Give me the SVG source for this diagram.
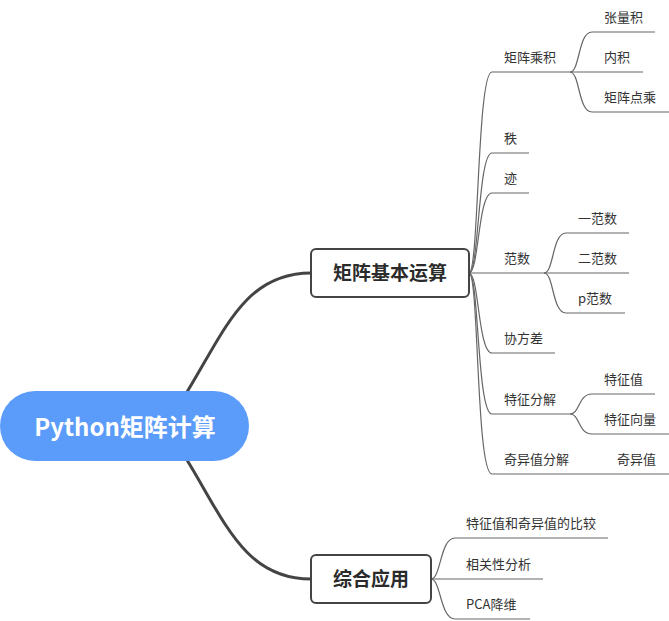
<svg xmlns="http://www.w3.org/2000/svg" width="669" height="621" viewBox="0 0 669 621">
<style>
.main{fill:none;stroke:#444;stroke-width:3;stroke-linecap:round}
.br{fill:none;stroke:#666;stroke-width:1.2}
.t{font-family:"Microsoft YaHei","Noto Sans CJK SC","Noto Sans",sans-serif;font-size:13px;fill:#333}
.nt{font-family:"Microsoft YaHei","Noto Sans CJK SC","Noto Sans",sans-serif;font-size:19px;font-weight:bold;fill:#2b2b2b;text-anchor:middle}
.box{fill:#fff;stroke:#444;stroke-width:2}
</style>
<rect width="669" height="621" fill="#fff"/>
<g id="connectors">
<path class="main" d="M187,392 C225,330 245,273 311,273"/>
<path class="main" d="M187,460 C225,522 245,579 311,579"/>
<path class="br" d="M469,273 C479,273 477,72 492,72 L570,72"/>
<path class="br" d="M469,273 C479,273 478,153 492,153 L529,153"/>
<path class="br" d="M469,273 C479,273 478,193 492,193 L529,193"/>
<path class="br" d="M469,273 L544,273"/>
<path class="br" d="M469,273 C479,273 478,353 492,353 L555,353"/>
<path class="br" d="M469,273 C479,273 477,414 492,414 L570,414"/>
<path class="br" d="M469,273 C479,273 476,474 492,474 L669,474"/>
<path class="br" d="M570,72 C580,72 578,32 592,32 L655,32"/>
<path class="br" d="M570,72 L643,72"/>
<path class="br" d="M570,72 C580,72 578,112 592,112 L669,112"/>
<path class="br" d="M544,273 C554,273 552,233 566,233 L629,233"/>
<path class="br" d="M544,273 L629,273"/>
<path class="br" d="M544,273 C554,273 552,313 566,313 L625,313"/>
<path class="br" d="M570,414 C580,414 578,394 592,394 L655,394"/>
<path class="br" d="M570,414 C580,414 578,434 592,434 L669,434"/>
<path class="br" d="M431,579 C441,579 440,538 455,538 L608,538"/>
<path class="br" d="M431,579 L543,579"/>
<path class="br" d="M431,579 C441,579 440,619 455,619 L530,619"/>
</g>
<g id="root">
<rect x="0" y="391" width="249" height="70" rx="35" fill="#5b9bfa"/>
<text x="125" y="436" text-anchor="middle" font-family="'Microsoft YaHei','Noto Sans CJK SC','Noto Sans',sans-serif" font-size="24" font-weight="bold" fill="#fff">Python矩阵计算</text>
</g>
<g id="n1">
<rect class="box" x="311" y="249" width="158" height="48" rx="5"/>
<text class="nt" x="390" y="280">矩阵基本运算</text>
</g>
<g id="n2">
<rect class="box" x="311" y="555" width="120" height="48" rx="5"/>
<text class="nt" x="371" y="586">综合应用</text>
</g>
<g id="leaves">
<text class="t" x="504" y="62">矩阵乘积</text>
<text class="t" x="604" y="22">张量积</text>
<text class="t" x="604" y="62">内积</text>
<text class="t" x="604" y="102">矩阵点乘</text>
<text class="t" x="504" y="143">秩</text>
<text class="t" x="504" y="183">迹</text>
<text class="t" x="504" y="263">范数</text>
<text class="t" x="578" y="223">一范数</text>
<text class="t" x="578" y="263">二范数</text>
<text class="t" x="578" y="303">p范数</text>
<text class="t" x="504" y="343">协方差</text>
<text class="t" x="504" y="404">特征分解</text>
<text class="t" x="604" y="384">特征值</text>
<text class="t" x="604" y="424">特征向量</text>
<text class="t" x="504" y="464">奇异值分解</text>
<text class="t" x="617" y="464">奇异值</text>
<text class="t" x="466" y="528">特征值和奇异值的比较</text>
<text class="t" x="466" y="569">相关性分析</text>
<text class="t" x="466" y="609">PCA降维</text>
</g>
</svg>
